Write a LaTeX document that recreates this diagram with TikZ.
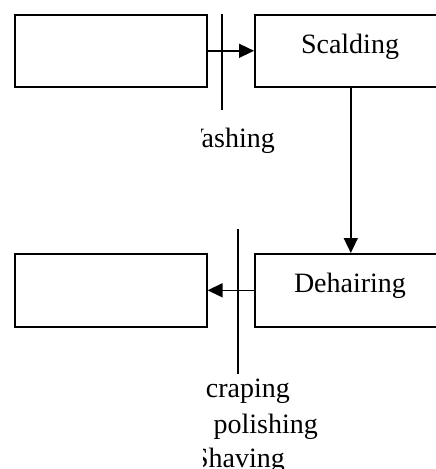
\documentclass[tikz,border=0pt]{standalone}
\usepackage{fontspec}
\setmainfont{Liberation Serif}
\usetikzlibrary{arrows.meta}
\begin{document}
\begin{tikzpicture}[x=1pt,y=-1pt,
  box/.style={draw, line width=1.6pt, minimum width=192pt, minimum height=72pt, inner sep=0pt, anchor=north west},
  lbl/.style={font=\fontsize{28}{33}\selectfont, inner sep=0pt},
  arr/.style={line width=1.6pt, -{Triangle[length=15pt,width=14pt]}},
  tickline/.style={line width=1.6pt}]
\useasboundingbox (0,0) rectangle (436,469);
\clip (0,0) rectangle (436,469);
\node[box] (in) at (14,14) {};
\node[box] (sc) at (254,14) {};
\node[box, minimum height=73pt] (out) at (14,253) {};
\node[box, minimum height=73pt] (dh) at (254,253) {};
\node[lbl, anchor=base] (sct) at (350,53) {Scalding};
\node[lbl, anchor=base] (dht) at (350,292) {Dehairing};
\draw[arr] (in.east) -- (sc.west);
\draw[arr] (sc.south) -- (dh.north);
\draw[arr] (dh.west) -- (out.east);
\coordinate (t1a) at (222,14);
\coordinate (t1b) at (222,110);
\coordinate (t2a) at (238,229);
\coordinate (t2b) at (238,374);
\draw[tickline] (t1a) -- (t1b);
\draw[tickline] (t2a) -- (t2b);
\begin{scope}
\clip (201.5,115) rectangle (436,160);
\node[lbl, anchor=base east] (wa) at (275,147) {Washing};
\end{scope}
\node[lbl, anchor=base east] (scr) at (290,397) {craping};
\node[lbl, anchor=base east] (pol) at (318,433) {polishing};
\begin{scope}
\clip (203,440) rectangle (436,469);
\node[lbl, anchor=base east] (sha) at (285,467) {Shaving};
\end{scope}
\end{tikzpicture}
\end{document}
